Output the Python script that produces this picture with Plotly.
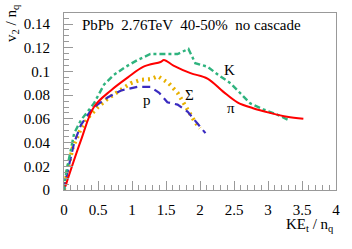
import plotly.graph_objects as go

pion_x = [0.02, 0.25, 0.44, 0.69, 0.94, 1.17, 1.42, 1.47, 1.61, 1.86, 2.11, 2.34, 2.55, 2.78, 3.03, 3.28, 3.52]
pion_y = [0.003, 0.042, 0.070, 0.084, 0.095, 0.104, 0.108, 0.1096, 0.105, 0.0986, 0.094, 0.083, 0.074, 0.069, 0.065, 0.0617, 0.060]

kaon_x = [0.0, 0.03, 0.15, 0.25, 0.44, 0.59, 0.73, 0.91, 1.08, 1.27, 1.47, 1.67, 1.83, 1.93, 2.11, 2.27, 2.45, 2.59, 2.74, 2.93, 3.12, 3.30]
kaon_y = [0.0, 0.014, 0.048, 0.059, 0.073, 0.089, 0.097, 0.104, 0.1096, 0.1147, 0.1147, 0.1147, 0.119, 0.107, 0.104, 0.097, 0.090, 0.082, 0.073, 0.068, 0.064, 0.059]

prot_x = [0.0, 0.05, 0.15, 0.25, 0.42, 0.54, 0.64, 0.84, 1.08, 1.27, 1.40, 1.52, 1.67, 1.82, 1.96, 2.08]
prot_y = [0.0, 0.015, 0.040, 0.055, 0.069, 0.074, 0.078, 0.084, 0.087, 0.087, 0.082, 0.074, 0.072, 0.066, 0.056, 0.048]

sig_x = [0.0, 0.06, 0.13, 0.25, 0.37, 0.50, 0.64, 0.81, 0.98, 1.13, 1.27, 1.38, 1.54, 1.67, 1.76, 1.84, 1.93, 2.0]
sig_y = [0.0, 0.019, 0.036, 0.052, 0.062, 0.070, 0.077, 0.084, 0.090, 0.093, 0.0935, 0.096, 0.090, 0.082, 0.073, 0.065, 0.057, 0.052]

x_ticks = [0, 0.5, 1, 1.5, 2, 2.5, 3, 3.5, 4]
x_labels = ["0", "0.5", "1", "1.5", "2", "2.5", "3", "3.5", "4"]
y_ticks = [0, 0.02, 0.04, 0.06, 0.08, 0.1, 0.12, 0.14]
y_labels = ["0", "0.02", "0.04", "0.06", "0.08", "0.1", "0.12", "0.14"]

FONT = "Liberation Serif"

fig = go.Figure()
fig.add_trace(go.Scatter(x=sig_x, y=sig_y, mode="lines",
                         line=dict(color="#e8b000", width=4, dash="2px,4px"), showlegend=False))
fig.add_trace(go.Scatter(x=prot_x, y=prot_y, mode="lines",
                         line=dict(color="#3a2bc0", width=2.2, dash="8px,5px"), showlegend=False))
fig.add_trace(go.Scatter(x=kaon_x, y=kaon_y, mode="lines",
                         line=dict(color="#2fb37e", width=2.4, dash="6px,3px,3px,3px"), showlegend=False))
fig.add_trace(go.Scatter(x=pion_x, y=pion_y, mode="lines", line_shape="spline",
                         line=dict(color="#ff0000", width=2), showlegend=False))

ann = [
    dict(text="PbPb  2.76TeV  40-50%  no cascade", xref="paper", yref="paper",
         x=(80 - 64) / 272, y=1 - (25 - 13) / 177, xanchor="left", yanchor="middle",
         font=dict(size=15, family=FONT, color="black"), showarrow=False),
    dict(text="K", x=2.44, y=0.101, font=dict(size=15, family=FONT, color="black"), showarrow=False),
    dict(text="π", x=2.46, y=0.069, font=dict(size=15, family=FONT, color="black"), showarrow=False),
    dict(text="p", x=1.22, y=0.076, font=dict(size=15, family=FONT, color="black"), showarrow=False),
    dict(text="Σ", x=1.85, y=0.080, font=dict(size=15, family=FONT, color="black"), showarrow=False),
    dict(text="v<sub>2</sub> / n<sub>q</sub>", xref="paper", yref="paper",
         x=(12 - 64) / 272, y=1 + (13 - 2) / 177, xanchor="center", yanchor="top", textangle=-90,
         font=dict(size=15, family=FONT, color="black"), showarrow=False),
    dict(text="KE<sub>t</sub> / n<sub>q</sub>", xref="paper", yref="paper",
         x=1.0, y=-(214 - 190) / 177, xanchor="right", yanchor="top",
         font=dict(size=15, family=FONT, color="black"), showarrow=False),
]

fig.update_layout(
    width=352, height=249,
    margin=dict(l=64, r=16, t=13, b=59),
    paper_bgcolor="white", plot_bgcolor="white",
    font=dict(family=FONT, size=15, color="black"),
    annotations=ann,
    xaxis=dict(range=[0, 4], tickvals=x_ticks, ticktext=x_labels, ticks="inside", ticklen=9,
               tickcolor="#999999", tickwidth=1, showline=True, linecolor="#999999", mirror=True,
               showgrid=False, zeroline=False, ticklabelstandoff=6,
               minor=dict(ticks="inside", dtick=0.1, ticklen=5, tickcolor="#999999", showgrid=False)),
    yaxis=dict(range=[0, 0.1493], tickvals=y_ticks, ticktext=y_labels, ticks="inside", ticklen=9,
               tickcolor="#999999", tickwidth=1, showline=True, linecolor="#999999", mirror=True,
               showgrid=False, zeroline=False, ticklabelstandoff=10,
               minor=dict(ticks="inside", dtick=0.005, ticklen=5, tickcolor="#999999", showgrid=False)),
)

fig.write_html("out.html", config={"displayModeBar": False},
               post_script="document.body.style.margin='0';document.body.style.padding='0';")
